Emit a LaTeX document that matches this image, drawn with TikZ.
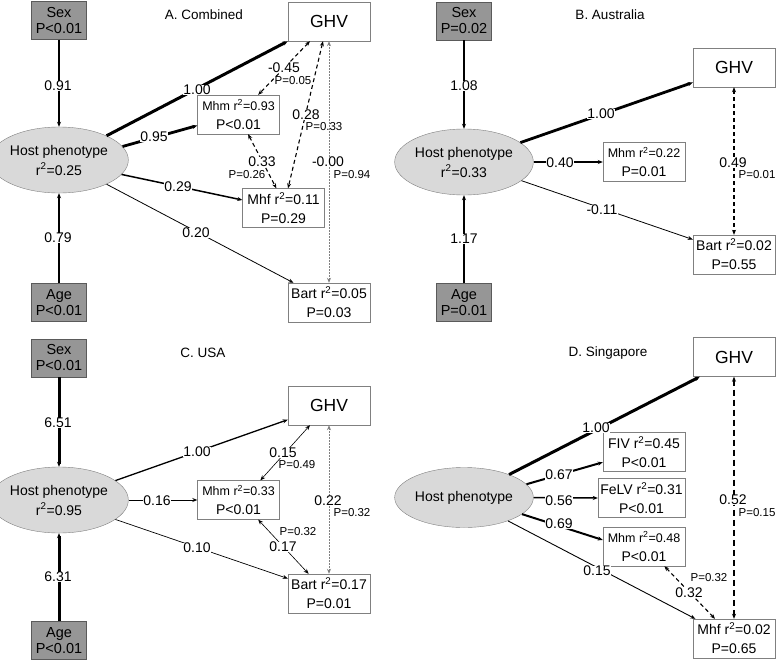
\documentclass[tikz,border=0pt]{standalone}
\usepackage{fontspec}
\setmainfont{Liberation Sans}
\usetikzlibrary{shapes,arrows.meta,positioning,calc}
\definecolor{covgray}{RGB}{150,150,150}
\definecolor{hostgray}{RGB}{217,217,217}
\definecolor{boxline}{RGB}{128,128,128}
\newcommand{\setfs}[2]{\fontsize{#1}{#2}\selectfont}

\begin{document}
\begin{tikzpicture}[
    x=1pt, y=-1pt,
    >={Stealth[length=5pt,width=4pt]},
    cov/.style={rectangle, draw=boxline!70!black, fill=covgray, minimum width=55pt, minimum height=38pt, inner sep=1pt, align=center, font=\setfs{14.5}{16}},
    host/.style={ellipse, draw=boxline, fill=hostgray, minimum width=114pt, minimum height=66pt, inner sep=0pt, align=center, font=\setfs{14}{20}},
    ghv/.style={rectangle, draw=boxline, fill=white, minimum width=82pt, minimum height=39pt, font=\setfs{17.5}{20}},
    res/.style={rectangle, draw=boxline, fill=white, minimum width=82pt, minimum height=39pt, inner sep=1pt, align=center, font=\setfs{14}{19}},
    coef/.style={fill=white, inner sep=0.5pt, font=\setfs{14}{15}},
    pval/.style={inner sep=0.5pt, font=\setfs{11.5}{12}},
    ttl/.style={font=\setfs{13.5}{14}},
    link/.style={->, line width=#1},
    corr/.style={<->, line width=#1, dash pattern=on 4pt off 3pt},
    dotcorr/.style={<->, line width=0.7pt, draw=gray, dash pattern=on 1.5pt off 1.5pt}
]
    \useasboundingbox (0,0) rectangle (778,661);

    % A. Combined
    \node[ttl] (ttlA) at (204,15) {A. Combined};
    \node[cov] (sexA) at (59,20.5) {Sex\\P<0.01};
    \node[cov] (ageA) at (59,302.5) {Age\\P<0.01};
    \node[host] (hostA) at (59,160) {Host phenotype\\r\textsuperscript{2}=0.25};
    \node[ghv] (ghvA) at (329,21.5) {GHV};
    \node[res] (mhmA) at (238.5,114.5) {{\setfs{12.5}{19}Mhm r\textsuperscript{2}=0.93}\\P<0.01};
    \node[res] (mhfA) at (283.5,208) {Mhf r\textsuperscript{2}=0.11\\P=0.29};
    \node[res] (bartA) at (329,302.5) {Bart r\textsuperscript{2}=0.05\\P=0.03};

    \draw[link=2.5pt] (sexA) -- (hostA);
    \draw[link=2.5pt] (ageA) -- (hostA);
    \draw[link=3pt] (hostA.27) -- (ghvA.south west);
    \draw[link=2.8pt] (hostA.12) -- (mhmA.195);
    \draw[link=1.5pt] (hostA.-13) -- (mhfA.169);
    \draw[link=0.8pt] (hostA.-27) -- (bartA.151);
    \draw[corr=1.1pt] (ghvA.226) -- (mhmA.45);
    \draw[corr=1.1pt] (ghvA.253) -- (mhfA.77);
    \draw[corr=1.1pt] (mhmA.296) -- (mhfA.110);
    \draw[dotcorr] (ghvA.south) -- (bartA.north);

    \node[coef] (cA1) at (58,86) {0.91};
    \node[coef] (cA2) at (58,238) {0.79};
    \node[coef] (cA3) at (197,90) {1.00};
    \node[coef] (cA4) at (154,137) {0.95};
    \node[coef] (cA5) at (178,187) {0.29};
    \node[coef] (cA6) at (196,233) {0.20};
    \node[coef] (cA7) at (284,68) {-0.45};
    \node[pval] (pA7) at (293,81) {P=0.05};
    \node[coef] (cA8) at (306,115) {0.28};
    \node[pval] (pA8) at (324,127) {P=0.33};
    \node[coef] (cA9) at (262,162) {0.33};
    \node[pval] (pA9) at (247,175) {P=0.26};
    \node[coef] (cA10) at (328,162) {-0.00};
    \node[pval] (pA10) at (352,175) {P=0.94};

    % B. Australia
    \node[ttl] (ttlB) at (610,15) {B. Australia};
    \node[cov] (sexB) at (464,21) {Sex\\P=0.02};
    \node[cov] (ageB) at (464,302.5) {Age\\P=0.01};
    \node[host] (hostB) at (464,162) {Host phenotype\\r\textsuperscript{2}=0.33};
    \node[ghv] (ghvB) at (734,67.5) {GHV};
    \node[res] (mhmB) at (644,162) {{\setfs{12.5}{19}Mhm r\textsuperscript{2}=0.22}\\P=0.01};
    \node[res] (bartB) at (734,254.5) {Bart r\textsuperscript{2}=0.02\\P=0.55};

    \draw[link=2.5pt] (sexB) -- (hostB);
    \draw[link=2.8pt] (ageB) -- (hostB);
    \draw[link=2.8pt] (hostB.19) -- (ghvB.200);
    \draw[link=1.2pt] (hostB.east) -- (mhmB.west);
    \draw[link=0.8pt] (hostB.-18) -- (bartB.160);
    \draw[corr=1.5pt] (ghvB.south) -- (bartB.north);

    \node[coef] (cB1) at (464,86) {1.08};
    \node[coef] (cB2) at (464,239) {1.17};
    \node[coef] (cB3) at (601,114) {1.00};
    \node[coef] (cB4) at (560,163) {0.40};
    \node[coef] (cB5) at (602,210) {-0.11};
    \node[coef] (cB6) at (733,163) {0.49};
    \node[pval] (pB6) at (757,175) {P=0.01};

    % C. USA
    \node[ttl] (ttlC) at (203,353) {C. USA};
    \node[cov] (sexC) at (59,358) {Sex\\P<0.01};
    \node[cov] (ageC) at (59,640.5) {Age\\P<0.01};
    \node[host] (hostC) at (59,500) {Host phenotype\\r\textsuperscript{2}=0.95};
    \node[ghv] (ghvC) at (329,405.5) {GHV};
    \node[res] (mhmC) at (238.5,500) {{\setfs{12.5}{19}Mhm r\textsuperscript{2}=0.33}\\P<0.01};
    \node[res] (bartC) at (329,593.5) {Bart r\textsuperscript{2}=0.17\\P=0.01};

    \draw[link=3pt] (sexC) -- (hostC);
    \draw[link=3pt] (ageC) -- (hostC);
    \draw[link=1.3pt] (hostC.19) -- (ghvC.199);
    \draw[link=1pt] (hostC.east) -- (mhmC.west);
    \draw[link=0.7pt] (hostC.-19) -- (bartC.160);
    \draw[<->, line width=0.6pt] (ghvC.226) -- (mhmC.42);
    \draw[<->, line width=0.6pt] (mhmC.315) -- (bartC.136);
    \draw[dotcorr] (ghvC.south) -- (bartC.north);

    \node[coef] (cC1) at (58,423) {6.51};
    \node[coef] (cC2) at (58,577) {6.31};
    \node[coef] (cC3) at (197,452) {1.00};
    \node[coef] (cC4) at (157,501) {0.16};
    \node[coef] (cC5) at (197,548) {0.10};
    \node[coef] (cC6) at (283,453) {0.15};
    \node[pval] (pC6) at (297,465) {P=0.49};
    \node[pval] (pC7) at (298,532) {P=0.32};
    \node[coef] (cC7) at (283,547) {0.17};
    \node[coef] (cC8) at (328,501) {0.22};
    \node[pval] (pC8) at (352,513) {P=0.32};

    % D. Singapore
    \node[ttl] (ttlD) at (608,353) {D. Singapore};
    \node[host, minimum width=117pt, minimum height=60pt] (hostD) at (464,497.5) {Host phenotype};
    \node[ghv] (ghvD) at (734,357) {GHV};
    \node[res] (fivD) at (644,452) {FIV r\textsuperscript{2}=0.45\\P<0.01};
    \node[res, minimum width=87pt] (felvD) at (641.5,498) {FeLV r\textsuperscript{2}=0.31\\P<0.01};
    \node[res] (mhmD) at (644,546.5) {{\setfs{12.5}{19}Mhm r\textsuperscript{2}=0.48}\\P<0.01};
    \node[res] (mhfD) at (734,638.5) {Mhf r\textsuperscript{2}=0.02\\P=0.65};

    \draw[link=3pt] (hostD.27) -- (ghvD.210);
    \draw[link=2pt] (hostD.12) -- (fivD.194);
    \draw[link=1.5pt] (hostD.east) -- (felvD.west);
    \draw[link=2pt] (hostD.-16) -- (mhmD.171);
    \draw[link=0.9pt] (hostD.-28) -- (mhfD.153);
    \draw[corr=1.1pt] (mhmD.316) -- (mhfD.134);
    \draw[<->, line width=2pt, dash pattern=on 6pt off 4pt] (ghvD.south) -- (mhfD.north);

    \node[coef] (cD1) at (596,428) {1.00};
    \node[coef] (cD2) at (559,475) {0.67};
    \node[coef] (cD3) at (559,501) {0.56};
    \node[coef] (cD4) at (559,524) {0.69};
    \node[coef] (cD5) at (597,571) {0.15};
    \node[pval] (pD6) at (709,578) {P=0.32};
    \node[coef] (cD6) at (689,593) {0.32};
    \node[coef] (cD7) at (733,500) {0.52};
    \node[pval] (pD7) at (757,513) {P=0.15};
\end{tikzpicture}
\end{document}
